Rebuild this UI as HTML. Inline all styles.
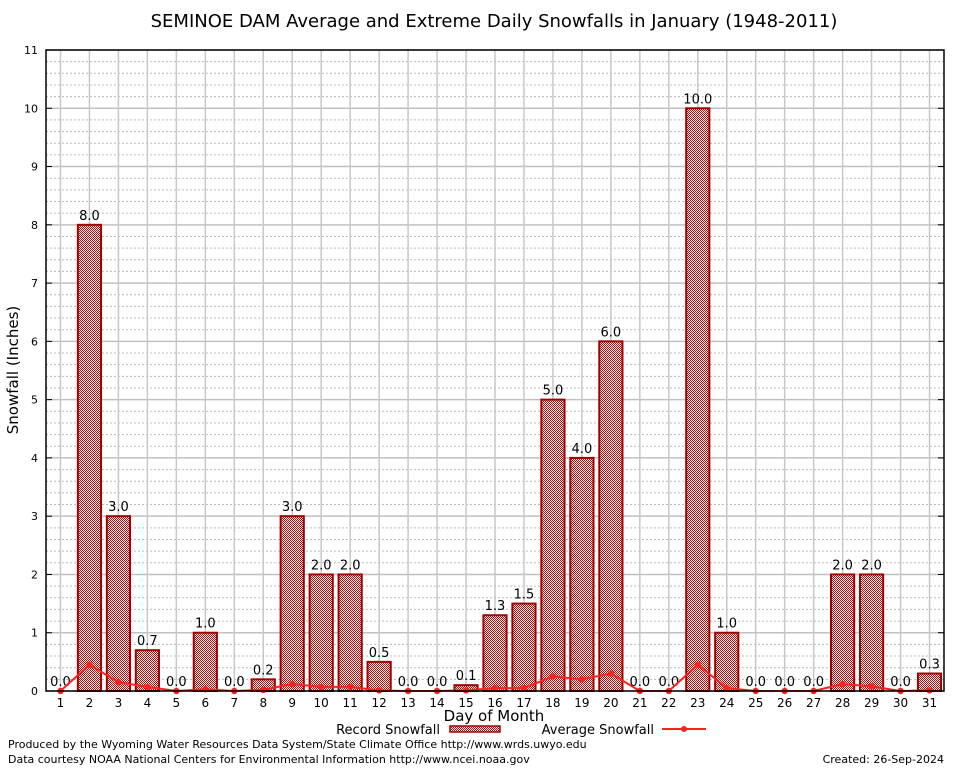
<!DOCTYPE html>
<html><head><meta charset="utf-8"><style>
body{margin:0;background:#fff}
svg text{font-family:"DejaVu Sans","Liberation Sans",sans-serif}
</style></head><body>
<svg id="c" width="954" height="768" xmlns="http://www.w3.org/2000/svg">
<defs>
<pattern id="chk" width="2" height="2" patternUnits="userSpaceOnUse">
<rect width="2" height="2" fill="#ffffff"/><rect width="1" height="1" fill="#c80000"/><rect x="1" y="1" width="1" height="1" fill="#c80000"/>
</pattern>
</defs>
<rect x="0" y="0" width="954" height="768" fill="#fff"/>
<text x="494" y="27" font-size="18" text-anchor="middle">SEMINOE DAM Average and Extreme Daily Snowfalls in January (1948-2011)</text>
<g id="grid"></g>
<g id="bars"></g>
<g id="avg"></g>
<g id="axes"></g>
<text x="18" y="370" font-size="15" text-anchor="middle" transform="rotate(-90 18 370)">Snowfall (Inches)</text>
<text x="494" y="721" font-size="15" text-anchor="middle">Day of Month</text>
<g>
<text x="440" y="734" font-size="13" text-anchor="end">Record Snowfall</text>
<rect x="450" y="726" width="50" height="6" fill="url(#chk)" stroke="#a00000" stroke-width="1.5"/>
<text x="654" y="734" font-size="13" text-anchor="end">Average Snowfall</text>
<line x1="662" y1="729" x2="706" y2="729" stroke="#ff2020" stroke-width="2"/>
<circle cx="684" cy="729" r="3" fill="#ff2020"/>
</g>
<text x="8" y="748" font-size="11">Produced by the Wyoming Water Resources Data System/State Climate Office http://www.wrds.uwyo.edu</text>
<text x="8" y="763" font-size="11">Data courtesy NOAA National Centers for Environmental Information http://www.ncei.noaa.gov</text>
<text x="944" y="763" font-size="11" text-anchor="end">Created: 26-Sep-2024</text>
</svg>
<script>
const days=[1,2,3,4,5,6,7,8,9,10,11,12,13,14,15,16,17,18,19,20,21,22,23,24,25,26,27,28,29,30,31];
const recordSnow=[0,8,3,0.7,0,1,0,0.2,3,2,2,0.5,0,0,0.1,1.3,1.5,5,4,6,0,0,10,1,0,0,0,2,2,0,0.3];
const avgSnow=[0,0.45,0.15,0.07,0,0.03,0,0.02,0.12,0.07,0.07,0.01,0,0,0.01,0.05,0.05,0.25,0.2,0.3,0,0,0.45,0.05,0,0,0,0.12,0.08,0,0.01];
const yTicks=[0,1,2,3,4,5,6,7,8,9,10,11];
const L=46,R=944,T=50,B=691,yMax=11;
const sp=(R-L)/31;
const xs=d=>L+sp*(d-0.5);
const ys=v=>B-(v/yMax)*(B-T);
const NS="http://www.w3.org/2000/svg";
function mk(p,tag,a){const e=document.createElementNS(NS,tag);for(const k in a)e.setAttribute(k,a[k]);p.appendChild(e);return e;}
const g=document.getElementById('grid'),bars=document.getElementById('bars'),avg=document.getElementById('avg'),ax=document.getElementById('axes');
for(let v=0;v<yMax;v+=0.2){const y=ys(v);if(Math.abs(v-Math.round(v))<1e-6)continue;
 const l=mk(g,'line',{x1:L,x2:R,y1:y,y2:y,stroke:'#bbb','stroke-width':1,'stroke-dasharray':'2,2'});
 
 }
yTicks.forEach(v=>{const y=ys(v);
 const l=mk(g,'line',{x1:L,x2:R,y1:y,y2:y,stroke:'#c0c0c0','stroke-width':1.5});
 
 
 const t=mk(ax,'text',{x:L-8,y:y+4,'font-size':11,'text-anchor':'end','font-family':'Liberation Serif,serif'});t.textContent=v;
 
 
 mk(ax,'line',{x1:L,x2:L+6,y1:y,y2:y,stroke:'#000'});mk(ax,'line',{x1:R,x2:R-6,y1:y,y2:y,stroke:'#000'});});
days.forEach(d=>{const x=xs(d);
 const l=mk(g,'line',{x1:x,x2:x,y1:T,y2:B,stroke:'#c8c8c8','stroke-width':1.5});
 
 
 const t=mk(ax,'text',{x:x,y:B+16,'font-size':12,'text-anchor':'middle','font-family':'Liberation Serif,serif'});t.textContent=d;
 
 });
const bw=sp*0.8;
days.forEach((d,i)=>{const v=recordSnow[i];const x=xs(d);
 if(v>0){const r=mk(bars,'rect',{x:x-bw/2,y:ys(v),width:bw,height:B-ys(v),fill:'url(#chk)',stroke:'#a00000','stroke-width':2});
 
 }
 const t=mk(bars,'text',{x:x,y:ys(v)-5,'font-size':13,'text-anchor':'middle'});t.textContent=v.toFixed(1);
 
 });
const pts=days.map((d,i)=>xs(d)+','+ys(avgSnow[i])).join(' ');
const pl=mk(avg,'polyline',{points:pts,fill:'none',stroke:'#ff2020','stroke-width':2});


days.forEach((d,i)=>{const c=mk(avg,'circle',{cx:xs(d),cy:ys(avgSnow[i]),r:3.2,fill:'#ff2020'});
 
 });
const fr=mk(ax,'rect',{x:L,y:T,width:R-L,height:B-T,fill:'none',stroke:'#000','stroke-width':1.5});


</script>
</body></html>
